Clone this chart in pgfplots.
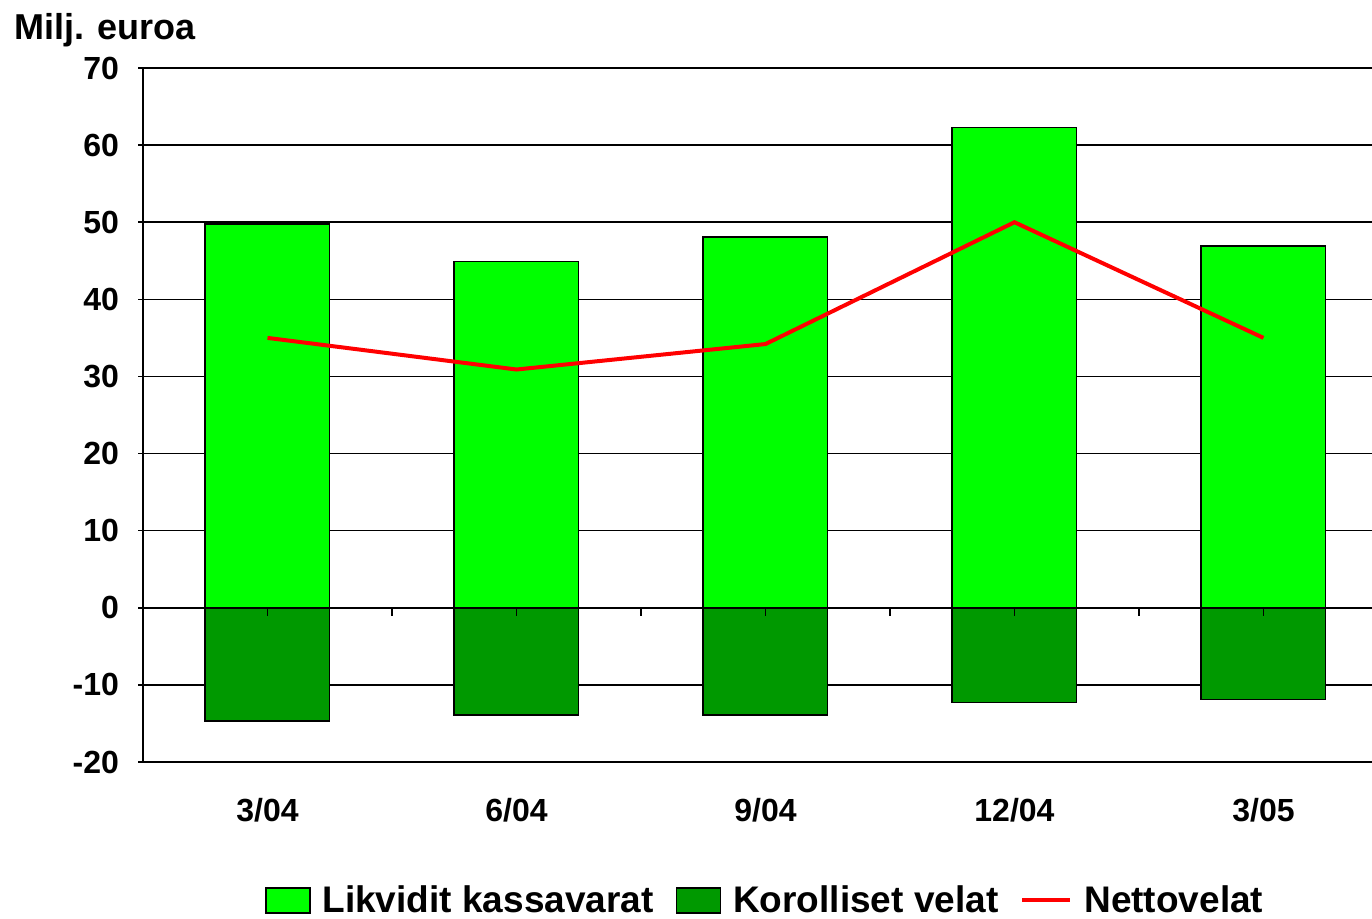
\documentclass[border=0pt]{standalone}
\usepackage{fontspec}
\setmainfont{Liberation Sans}
\usepackage{pgfplots}
\pgfplotsset{compat=1.18}
\definecolor{lgreen}{RGB}{0,255,0}
\definecolor{dgreen}{RGB}{0,153,0}
\begin{document}
\begin{tikzpicture}
\begin{axis}[
  at={(71.5bp,78.5bp)}, anchor=south west,
  scale only axis, width=614.5bp, height=347bp,
  xmin=-0.5, xmax=4.436, ymin=-20, ymax=70,
  axis y line*=left, axis x line*=bottom,
  axis line style={black, line width=0.75bp},
  ytick={-20,-10,0,10,20,30,40,50,60,70},
  xtick={0,1,2,3,4},
  xticklabels={3/04,6/04,9/04,12/04,3/05},
  xtick style={draw=none},
  ytick style={black, line width=0.75bp},
  major tick length=2.5bp, tick align=outside,
  ymajorgrids, grid style={black, line width=0.75bp},
  /pgf/number format/assume math mode=true,
  tick label style={font=\bfseries\fontsize{16bp}{18bp}\selectfont},
  yticklabel style={anchor=east, xshift=-6bp},
  xticklabel style={anchor=north, yshift=-12bp},
  legend style={at={(0.507,-0.199)}, anchor=center, legend columns=3, draw=none,
    font=\bfseries\fontsize{18.5bp}{20bp}\selectfont, inner sep=0pt,
    /tikz/every odd column/.append style={column sep=4bp},
    /tikz/every even column/.append style={column sep=9bp}},
  legend cell align=left,
]
\addplot[ybar, bar width=0.5, bar shift=0, fill=lgreen, draw=black, line width=0.75bp,
  legend image code/.code={\draw[fill=lgreen, draw=black, line width=0.75bp] (0bp,-6.5bp) rectangle (22bp,6bp);}]
  coordinates {(0,49.8) (1,44.9) (2,48.1) (3,62.3) (4,46.9)};
\addlegendentry{Likvidit kassavarat}
\addplot[ybar, bar width=0.5, bar shift=0, fill=dgreen, draw=black, line width=0.75bp,
  legend image code/.code={\draw[fill=dgreen, draw=black, line width=0.75bp] (0bp,-6.5bp) rectangle (22bp,6bp);}]
  coordinates {(0,-14.7) (1,-13.9) (2,-13.9) (3,-12.3) (4,-11.9)};
\addlegendentry{Korolliset velat}
\addplot[red, line width=2bp, mark=none,
  legend image code/.code={\draw[red, line width=2bp] (0bp,0bp) -- (24bp,0bp);}]
  coordinates {(0,35.0) (1,30.9) (2,34.2) (3,50.0) (4,35.0)};
\addlegendentry{Nettovelat}
\draw[black, line width=0.75bp] (axis cs:-0.5,0) -- (axis cs:4.436,0);
\pgfplotsinvokeforeach{-0.5,0,0.5,1,1.5,2,2.5,3,3.5,4}{
  \draw[black, line width=0.75bp] (axis cs:#1,0) -- ++(0pt,-4bp);
}
\end{axis}
\node[anchor=base west, inner sep=0pt, font=\bfseries\fontsize{18bp}{20bp}\selectfont] at (7bp,439.5bp) {Milj. euroa};
\pgfresetboundingbox
\path[use as bounding box] (0,0) rectangle (686bp,459.5bp);
\end{tikzpicture}
\end{document}
